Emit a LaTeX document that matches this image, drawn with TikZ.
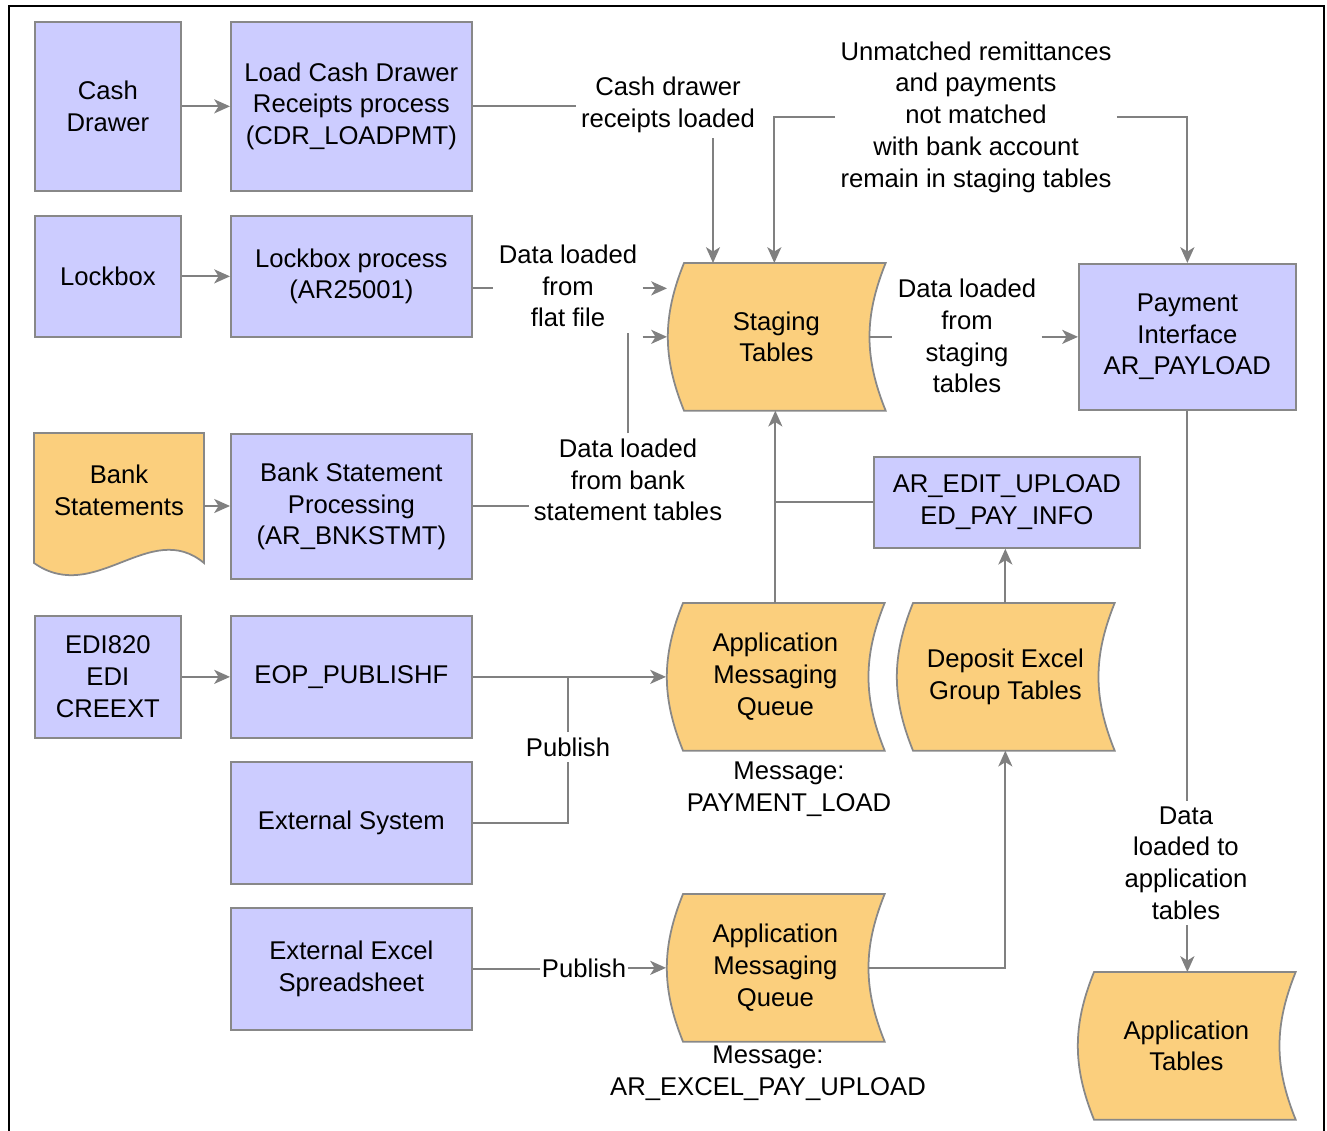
\documentclass[tikz,border=0pt]{standalone}
\usepackage{fontspec}
\setmainfont{Liberation Sans}
\usetikzlibrary{arrows.meta,backgrounds,calc}
\definecolor{lav}{RGB}{204,204,255}
\definecolor{tape}{RGB}{251,207,125}
\definecolor{boxgray}{RGB}{136,136,136}
\definecolor{linegray}{RGB}{128,128,128}
\tikzset{
  proc/.style={draw=boxgray, fill=lav, line width=1pt, align=center, inner sep=0pt, anchor=north west},
  store/.style={align=center, inner sep=0pt, minimum width=4.36cm, minimum height=2.94cm, anchor=north west},
  lbl/.style={align=center, inner sep=0.1cm},
  wire/.style={draw=linegray, line width=1.1pt}
}

\begin{document}
\begin{tikzpicture}[x=0.02cm, y=-0.02cm, >={Stealth[length=9pt,width=8pt,inset=2.5pt]},
  every node/.style={font=\fontsize{14.6}{18.1}\selectfont}]
  \useasboundingbox (0,0) rectangle (1327,1131);
  \draw[line width=1.5pt] (9,1140) -- (9,6) -- (1324,6) -- (1324,1140);

  % process boxes
  \node[proc, minimum width=2.92cm, minimum height=3.38cm] (cash) at (34,21) {Cash\\Drawer};
  \node[proc, minimum width=4.82cm, minimum height=3.38cm] (ldcdr) at (230,21) {Load Cash Drawer\\Receipts process\\(CDR\_LOADPMT)};
  \node[proc, minimum width=2.92cm, minimum height=2.42cm] (lbox) at (34,215) {Lockbox};
  \node[proc, minimum width=4.82cm, minimum height=2.42cm] (lbproc) at (230,215) {Lockbox process\\(AR25001)};
  \node[proc, minimum width=4.82cm, minimum height=2.9cm] (bsp) at (230,433) {Bank Statement\\Processing\\(AR\_BNKSTMT)};
  \node[proc, minimum width=2.92cm, minimum height=2.44cm] (edi) at (34,615) {EDI820\\EDI\\CREEXT};
  \node[proc, minimum width=4.82cm, minimum height=2.44cm] (eop) at (230,615) {EOP\_PUBLISHF};
  \node[proc, minimum width=4.82cm, minimum height=2.44cm] (extsys) at (230,761) {External System};
  \node[proc, minimum width=4.82cm, minimum height=2.44cm] (extxl) at (230,907) {External Excel\\Spreadsheet};
  \node[proc, minimum width=4.34cm, minimum height=2.92cm] (pay) at (1078,263) {Payment\\Interface\\AR\_PAYLOAD};
  \node[proc, minimum width=5.32cm, minimum height=1.82cm] (edit) at (873,456) {AR\_EDIT\_UPLOAD\\ED\_PAY\_INFO};

  % bank statements document
  \filldraw[draw=boxgray, fill=tape, line width=1pt] (34,433) -- (204,433) -- (204,563)
    .. controls (150,518) and (95,606) .. (34,563) -- cycle;
  \node[align=center] (bank) at (119,490) {Bank\\Statements};
  \coordinate (bankout) at (204,506);

  % stored data
  \node[store] (stg) at (667,263) {Staging\\Tables};
  \node[store] (amq1) at (666,603) {Application\\Messaging\\Queue};
  \node[store] (dep) at (896,603) {Deposit Excel\\Group Tables};
  \node[store] (amq2) at (666,894) {Application\\Messaging\\Queue};
  \node[store] (apptab) at (1077,972) {Application\\Tables};

  % labels
  \node[lbl] (cdrl) at (668,105) {Cash drawer\\receipts loaded};
  \node[lbl] (unm) at (976,117) {Unmatched remittances\\and payments\\not matched\\with bank account\\remain in staging tables};
  \node[lbl] (fflbl) at (568,286) {Data loaded\\from\\flat file};
  \node[lbl] (stlbl) at (967,336) {Data loaded\\from\\staging\\tables};
  \node[lbl] (bstl) at (628,480) {Data loaded\\from bank\\statement tables};
  \node[lbl] (pub1) at (568,747) {Publish};
  \node[lbl] (msg1) at (789,789) {Message:\\PAYMENT\_LOAD};
  \node[lbl, inner xsep=1pt] (pub2) at (584,968) {Publish};
  \node[lbl] (msg2) at (768,1073) {Message:\\AR\_EXCEL\_PAY\_UPLOAD};
  \node[lbl] (atlbl) at (1186,863) {Data\\loaded to\\application\\tables};

  % connectors
  \draw[wire,->] (cash) -- (ldcdr);
  \draw[wire,->] (lbox) -- (lbproc);
  \draw[wire,->] (bankout) -- (bankout -| bsp.west);
  \draw[wire,->] (edi) -- (eop);

  \coordinate (cdrdown) at ([xshift=0.9cm]cdrl.south);
  \draw[wire] (ldcdr.east) -- (ldcdr.east -| cdrl.west);
  \draw[wire,->] (cdrdown) -- (cdrdown |- stg.north);
  \draw[wire,->] (unm.west) -| ([xshift=-0.04cm]stg.north);
  \draw[wire,->] (unm.east) -| (pay.north);

  \coordinate (lbout) at ([yshift=-0.24cm]lbproc.east);
  \draw[wire] (lbout) -- (lbout -| fflbl.west);
  \draw[wire,->] (lbout -| fflbl.east) -- (lbout -| stg.west);
  \draw[wire] (bsp.east) -- (bsp.east -| bstl.west);
  \draw[wire] (bstl.north) -- (bstl.north |- fflbl.south);
  \draw[wire,->] (fflbl.east |- stg.west) -- (stg.west);

  \draw[wire] ([xshift=-0.34cm]stg.east) -- (stlbl.west |- stg.east);
  \draw[wire,->] (stlbl.east |- pay.west) -- (pay.west);
  \draw[wire] (pay.south) -- (pay.south |- atlbl.north);
  \draw[wire,->] (pay.south |- atlbl.south) -- (pay.south |- apptab.north);

  \draw[wire,->] (amq1.north) -- (amq1.north |- stg.south);
  \draw[wire] (edit.west) -- (edit.west -| amq1.north);
  \draw[wire,->] (dep.north) -- (dep.north |- edit.south);
  \draw[wire,->] ([xshift=-0.34cm]amq2.east) -| (dep.south);

  \draw[wire,->] (eop) -- (eop -| amq1.west);
  \draw[wire] (extsys.east) -| (pub1.south);
  \draw[wire] (pub1.north) -- (pub1.north |- eop.east);
  \draw[wire] (extxl.east) -- (extxl.east -| pub2.west);
  \draw[wire,->] (pub2.east |- amq2.west) -- (amq2.west);

  \begin{scope}[on background layer]
    \foreach \s in {stg,amq1,dep,amq2,apptab}
      \filldraw[draw=boxgray, fill=tape, line width=1pt] ([xshift=0.34cm]\s.north west) -- (\s.north east)
        to[bend right=22] (\s.south east) -- ([xshift=0.34cm]\s.south west)
        to[bend left=22] ([xshift=0.34cm]\s.north west) -- cycle;
  \end{scope}
\end{tikzpicture}
\end{document}
